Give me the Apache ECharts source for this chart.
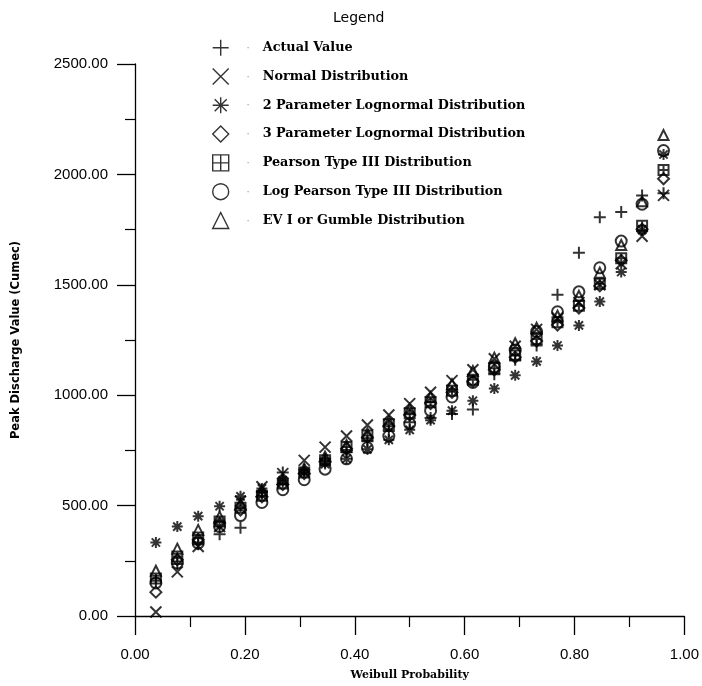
<!DOCTYPE html>
<html><head><meta charset="utf-8">
<script src="https://cdn.jsdelivr.net/npm/echarts@6/dist/echarts.min.js"></script>
<style>html,body{margin:0;padding:0;background:#fff}#c{width:702px;height:686px}</style>
</head><body><div id="c"></div>
<script>
// Weibull plotting positions (x values)
const probability = [0.038, 0.077, 0.115, 0.154, 0.192, 0.231, 0.269, 0.308, 0.346, 0.385, 0.423, 0.462, 0.500, 0.538, 0.577, 0.615, 0.654, 0.692, 0.731, 0.769, 0.808, 0.846, 0.885, 0.923, 0.962];

const actualValue   = [160, 235, 325, 370, 400, 560, 650, 662, 712, 742, 792, 838, 878, 897, 915, 935, 1095, 1160, 1225, 1455, 1645, 1806, 1830, 1905, 1915];
const normalDist    = [18, 200, 315, 405, 520, 585, 645, 705, 765, 815, 865, 910, 962, 1013, 1066, 1115, 1165, 1222, 1298, 1350, 1420, 1500, 1595, 1720, 1905];
const logNormal2P   = [333, 405, 452, 497, 542, 578, 615, 652, 688, 712, 755, 798, 843, 887, 930, 975, 1030, 1090, 1153, 1225, 1316, 1424, 1558, 1748, 2090];
const logNormal3P   = [108, 255, 345, 420, 480, 540, 595, 645, 700, 758, 810, 860, 910, 962, 1013, 1063, 1115, 1172, 1245, 1318, 1395, 1495, 1610, 1752, 1980];
const pearson3      = [170, 270, 355, 428, 490, 545, 600, 650, 705, 765, 818, 868, 918, 968, 1020, 1070, 1122, 1180, 1255, 1330, 1405, 1505, 1620, 1768, 2020];
const logPearson3   = [150, 240, 330, 405, 455, 514, 572, 617, 665, 712, 762, 815, 871, 930, 992, 1058, 1129, 1205, 1288, 1378, 1468, 1577, 1698, 1865, 2108];
const gumbelEV1     = [205, 305, 390, 450, 510, 565, 620, 668, 722, 775, 828, 882, 936, 992, 1050, 1110, 1170, 1235, 1305, 1360, 1450, 1555, 1680, 1878, 2178];

const seriesNames = ['Actual Value', 'Normal Distribution', '2 Parameter Lognormal Distribution', '3 Parameter Lognormal Distribution', 'Pearson Type III Distribution', 'Log Pearson Type III Distribution', 'EV I or Gumble Distribution'];
const seriesValues = [actualValue, normalDist, logNormal2P, logNormal3P, pearson3, logPearson3, gumbelEV1];

const yTicks = [0, 500, 1000, 1500, 2000, 2500];
const xTicks = [0, 0.2, 0.4, 0.6, 0.8, 1.0];

const symbols = [
  'path://M0,-10L0,10M-10,0L10,0',
  'path://M-10,-10L10,10M-10,10L10,-10',
  'path://M0,-10L0,10M-10,0L10,0M-7.5,-7.5L7.5,7.5M-7.5,7.5L7.5,-7.5',
  'diamond',
  'path://M-10,-10L10,-10L10,10L-10,10ZM0,-10L0,10M-10,0L10,0',
  'circle',
  'triangle'
];
const plotSizes = [12, 11, 11, 11, 10, 11, 10];

const strokeStyle = {color: 'rgba(0,0,0,0)', borderColor: '#000', borderWidth: 2};

const chart = echarts.init(document.getElementById('c'));
chart.setOption({
  animation: false,
  backgroundColor: '#fff',
  title: {
    text: 'Legend', left: 328, top: 6,
    textStyle: {fontFamily: 'DejaVu Sans', fontWeight: 'normal', fontSize: 14, color: '#000'}
  },
  legend: {
    orient: 'vertical', left: 207, top: 34,
    itemWidth: 16, itemHeight: 16, itemGap: 11.4,
    selectedMode: false,
    itemStyle: {color: 'rgba(0,0,0,0)', borderColor: '#000', borderWidth: 1.4},
    data: seriesNames.map((n, i) => ({name: n, icon: symbols[i]})),
    formatter: name => '{d|·}{t|' + name + '}',
    textStyle: {
      rich: {
        d: {width: 29, align: 'center', color: '#999', fontSize: 11, lineHeight: 16},
        t: {fontFamily: 'DejaVu Serif', fontWeight: 'bold', fontSize: 12.8, color: '#000', lineHeight: 16}
      }
    }
  },
  grid: {left: 135, right: 16, top: 64, bottom: 67},
  xAxis: {
    type: 'value', min: 0, max: 1, interval: 0.2,
    name: 'Weibull Probability', nameLocation: 'middle', nameGap: 54,
    nameTextStyle: {fontFamily: 'DejaVu Serif', fontWeight: 'bold', fontSize: 11, color: '#000'},
    axisLine: {lineStyle: {color: '#000', width: 1.3}},
    axisTick: {show: true, length: 19, lineStyle: {color: '#000', width: 1.3}},
    minorTick: {show: true, splitNumber: 2, length: 11, lineStyle: {color: '#000', width: 1.2}},
    splitLine: {show: false},
    axisLabel: {margin: 31, fontFamily: 'Liberation Sans', fontSize: 15, color: '#000',
      formatter: v => xTicks.some(t => Math.abs(t - v) < 1e-9) ? v.toFixed(2) : ''}
  },
  yAxis: {
    type: 'value', min: 0, max: 2500, interval: 500,
    name: 'Peak Discharge Value (Cumec)', nameLocation: 'middle', nameGap: 113, nameRotate: 90,
    nameTextStyle: {fontFamily: 'DejaVu Sans', fontWeight: 'bold', fontSize: 11.5, color: '#000'},
    axisLine: {show: true, lineStyle: {color: '#000', width: 1.3}},
    axisTick: {show: true, length: 18, lineStyle: {color: '#000', width: 1.3}},
    minorTick: {show: true, splitNumber: 2, length: 10, lineStyle: {color: '#000', width: 1.2}},
    splitLine: {show: false},
    axisLabel: {margin: 27, fontFamily: 'Liberation Sans', fontSize: 15, color: '#000',
      formatter: v => yTicks.indexOf(v) >= 0 ? v.toFixed(2) : ''}
  },
  series: seriesNames.map((n, i) => ({
    name: n, type: 'scatter',
    symbol: symbols[i], symbolSize: plotSizes[i],
    itemStyle: strokeStyle,
    data: probability.map((p, j) => [p, seriesValues[i][j]])
  }))
});
</script></body></html>
